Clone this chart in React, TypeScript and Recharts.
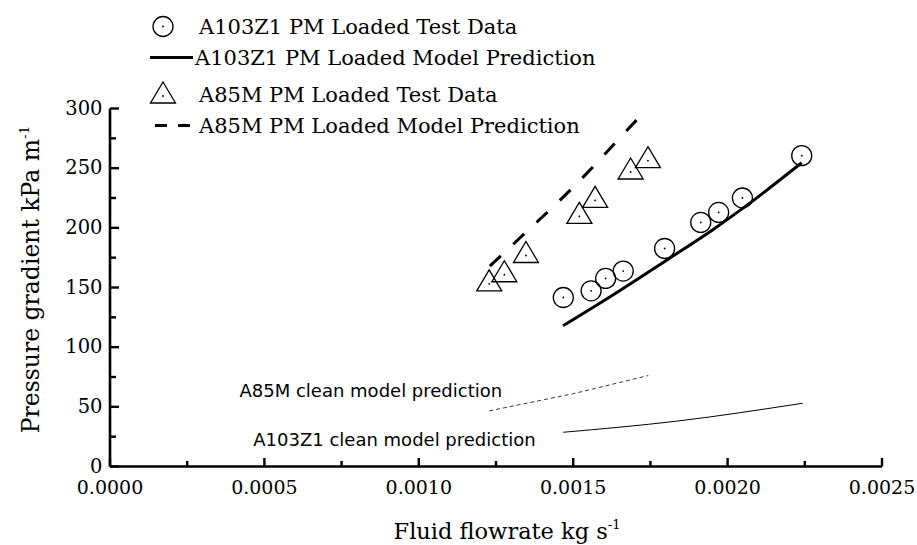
import React from 'react';
import { ComposedChart, Scatter, Line, XAxis, YAxis, Legend, ReferenceDot } from 'recharts';

// ---- data ----
const a103TestX = [0.001468, 0.001558, 0.001605, 0.001662, 0.001796, 0.001913, 0.001971, 0.002048, 0.00224];
const a103TestY = [141.6, 147.2, 157.6, 163.8, 182.7, 204.5, 212.9, 225, 260.5];

const a103ModelX = [0.001467, 0.00163, 0.0018, 0.00195, 0.00205, 0.00224];
const a103ModelY = [118, 144, 172.5, 198, 216.5, 254.5];

const a85mTestX = [0.001228, 0.001277, 0.001347, 0.00152, 0.001571, 0.001686, 0.001742];
const a85mTestY = [153.1, 160.7, 176.8, 209.6, 223, 246.8, 256.3];

const a85mModelX = [0.00123, 0.00135, 0.0015, 0.00165, 0.00174];
const a85mModelY = [168, 197, 234, 275, 300];

const a85mCleanX = [0.001228, 0.0015, 0.001743];
const a85mCleanY = [46.6, 61, 76.2];

const a103CleanX = [0.001468, 0.001835, 0.002243];
const a103CleanY = [28.7, 38, 53];

const xTicks = [0, 0.00025, 0.0005, 0.00075, 0.001, 0.00125, 0.0015, 0.00175, 0.002, 0.00225, 0.0025];
const yTicks = [0, 25, 50, 75, 100, 125, 150, 175, 200, 225, 250, 275, 300];

const legendLabels = [
  'A103Z1 PM Loaded Test Data',
  'A103Z1 PM Loaded Model Prediction',
  'A85M PM Loaded Test Data',
  'A85M PM Loaded Model Prediction',
];

const annotationTexts = ['A85M clean model prediction', 'A103Z1 clean model prediction'];
const annotationX = [0.00127, 0.000464];
const annotationY = [58.6, 17.4];

const xTitle = 'Fluid flowrate kg s';
const yTitle = 'Pressure gradient kPa m';

const zip = (xs: number[], ys: number[]) => xs.map((x, i) => ({ x, y: ys[i] }));

const SERIF = 'DejaVu Serif';
const SANS = 'DejaVu Sans';

const XTick = (props: any) => {
  const { x, y, payload } = props;
  const v = payload.value as number;
  const r = v / 0.0005;
  const major = Math.abs(r - Math.round(r)) < 1e-6;
  return (
    <g>
      <line x1={x} x2={x} y1={y} y2={y - (major ? 8.5 : 5.5)} stroke="#000" strokeWidth={2.4} />
      {major && (
        <text x={x} y={y + 27.5} textAnchor="middle" fontFamily={SERIF} fontSize={19} fill="#000">
          {v.toFixed(4)}
        </text>
      )}
    </g>
  );
};

const YTick = (props: any) => {
  const { x, y, payload } = props;
  const v = payload.value as number;
  const major = v % 50 === 0;
  return (
    <g>
      <line x1={x} x2={x + (major ? 9 : 6)} y1={y} y2={y} stroke="#000" strokeWidth={2.4} />
      {major && (
        <text x={x - 7.5} y={y + 6} textAnchor="end" fontFamily={SERIF} fontSize={19.5} fill="#000">
          {v}
        </text>
      )}
    </g>
  );
};

const CircleMarker = (props: any) => {
  const { cx, cy } = props;
  return (
    <g>
      <circle cx={cx} cy={cy} r={10} fill="none" stroke="#000" strokeWidth={1.3} />
      <circle cx={cx} cy={cy} r={0.9} fill="#000" />
    </g>
  );
};

const triPath = (cx: number, cy: number) =>
  `M${cx},${cy - 14} L${cx + 12.5},${cy + 7} L${cx - 12.5},${cy + 7} Z`;

const TriMarker = (props: any) => {
  const { cx, cy } = props;
  return (
    <g>
      <path d={triPath(cx, cy)} fill="none" stroke="#000" strokeWidth={1.3} strokeLinejoin="miter" />
      <circle cx={cx} cy={cy} r={0.9} fill="#000" />
    </g>
  );
};

const LegendContent = () => {
  const rows = [18.5, 49.5, 86, 117.5];
  const tx = 191;
  return (
    <svg width={640} height={140} style={{ display: 'block' }}>
      <circle cx={155} cy={rows[0]} r={10} fill="none" stroke="#000" strokeWidth={1.3} />
      <circle cx={155} cy={rows[0]} r={0.9} fill="#000" />
      <line x1={142} x2={185} y1={rows[1]} y2={rows[1]} stroke="#000" strokeWidth={3} />
      <path d={triPath(155, rows[2] + 2)} fill="none" stroke="#000" strokeWidth={1.3} />
      <circle cx={155} cy={rows[2] + 2} r={0.9} fill="#000" />
      <line x1={147} x2={159} y1={rows[3]} y2={rows[3]} stroke="#000" strokeWidth={3} />
      <line x1={170} x2={182} y1={rows[3]} y2={rows[3]} stroke="#000" strokeWidth={3} />
      {legendLabels.map((t, i) => (
        <text key={t} x={i === 1 ? 187 : tx} y={rows[i] + 7.5} fontFamily={SERIF} fontSize={21} fill="#000">
          {t}
        </text>
      ))}
    </svg>
  );
};

const XTitle = (props: any) => {
  const { viewBox } = props;
  const cx = viewBox.x + viewBox.width / 2 + 11;
  const by = viewBox.y + 72.5;
  return (
    <text x={cx} y={by} textAnchor="middle" fontFamily={SERIF} fontSize={22.5} fill="#000">
      <tspan>{xTitle}</tspan>
      <tspan dy={-10} fontSize={13}>-1</tspan>
    </text>
  );
};

const YTitle = (props: any) => {
  const { viewBox } = props;
  const bx = viewBox.x + viewBox.width - 71.5;
  const cy = viewBox.y + viewBox.height / 2 - 8;
  return (
    <text
      x={bx}
      y={cy}
      transform={`rotate(-90, ${bx}, ${cy})`}
      textAnchor="middle"
      fontFamily={SERIF}
      fontSize={23.5}
      fill="#000"
    >
      <tspan>{yTitle}</tspan>
      <tspan dy={-10} fontSize={13.5}>-1</tspan>
    </text>
  );
};

const makeAnno = (text: string, anchor: 'start' | 'end') => (p: any) => (
  <text x={p.cx} y={p.cy} textAnchor={anchor} fontFamily={SANS} fontSize={18} fill="#000">
    {text}
  </text>
);

export default function App() {
  return (
    <div style={{ position: 'absolute', left: 8, top: 8, width: 909, height: 537, background: '#fff' }}>
      <ComposedChart
        width={909}
        height={537}
        margin={{ top: 100.5, left: 101, right: 35, bottom: 77.5 }}
      >
        <XAxis
          type="number"
          dataKey="x"
          domain={[0, 0.0025]}
          ticks={xTicks}
          interval={0}
          height={1}
          tickSize={0}
          tickMargin={0}
          tickLine={false}
          tick={<XTick />}
          axisLine={{ stroke: '#000', strokeWidth: 2.6 }}
          allowDataOverflow
          label={{ content: <XTitle /> }}
        />
        <YAxis
          type="number"
          dataKey="y"
          domain={[0, 300]}
          ticks={yTicks}
          interval={0}
          width={1}
          tickSize={0}
          tickMargin={0}
          tickLine={false}
          tick={<YTick />}
          axisLine={{ stroke: '#000', strokeWidth: 2.6 }}
          allowDataOverflow
          label={{ content: <YTitle /> }}
        />
        <Legend
          layout="vertical"
          align="center"
          verticalAlign="middle"
          wrapperStyle={{ position: 'absolute', left: 0, top: 0, width: 640, height: 140 }}
          content={<LegendContent />}
        />
        <Line
          data={zip(a85mCleanX, a85mCleanY)}
          dataKey="y"
          type="linear"
          stroke="#222"
          strokeWidth={0.9}
          strokeDasharray="4 3"
          dot={false}
          activeDot={false}
          isAnimationActive={false}
          legendType="none"
        />
        <Line
          data={zip(a103CleanX, a103CleanY)}
          dataKey="y"
          type="monotone"
          stroke="#000"
          strokeWidth={1}
          dot={false}
          activeDot={false}
          isAnimationActive={false}
          legendType="none"
        />
        <Line
          data={zip(a85mModelX, a85mModelY)}
          dataKey="y"
          type="monotone"
          stroke="#000"
          strokeWidth={3}
          strokeDasharray="15 17"
          dot={false}
          activeDot={false}
          isAnimationActive={false}
        />
        <Line
          data={zip(a103ModelX, a103ModelY)}
          dataKey="y"
          type="monotone"
          stroke="#000"
          strokeWidth={3}
          dot={false}
          activeDot={false}
          isAnimationActive={false}
        />
        <Scatter data={zip(a103TestX, a103TestY)} shape={<CircleMarker />} isAnimationActive={false} />
        <Scatter data={zip(a85mTestX, a85mTestY)} shape={<TriMarker />} isAnimationActive={false} />
        <ReferenceDot
          x={annotationX[0]}
          y={annotationY[0]}
          r={0}
          shape={makeAnno(annotationTexts[0], 'end')}
        />
        <ReferenceDot
          x={annotationX[1]}
          y={annotationY[1]}
          r={0}
          shape={makeAnno(annotationTexts[1], 'start')}
        />
      </ComposedChart>
    </div>
  );
}
